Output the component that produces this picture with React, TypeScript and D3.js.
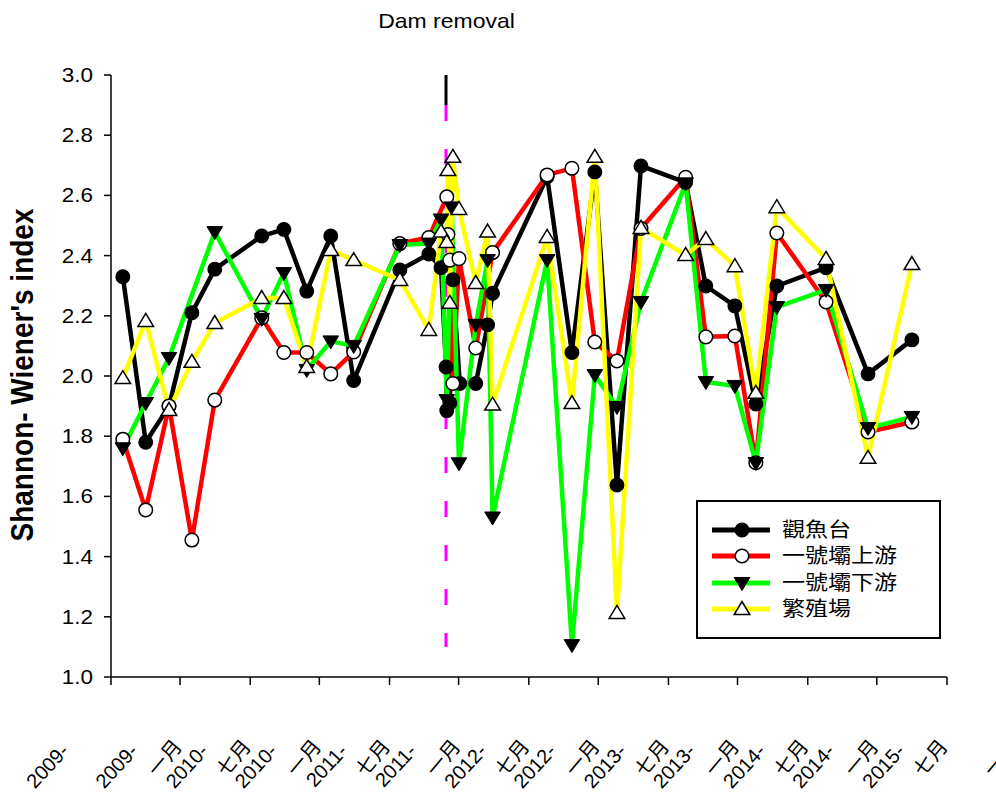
import React from "react";
import * as d3 from "d3";

const TITLE = "Dam removal";
const Y_TITLE = "Shannon- Wiener's index";
const SERIES_NAMES = ["觀魚台", "一號壩上游", "一號壩下游", "繁殖場"];
const SERIES_COLORS = ["#000000", "#ff0000", "#00ff00", "#ffff00"];
const SERIES_MARKERS = ["filledCircle", "openCircle", "downTriangle", "upTriangle"];

const BLACK_DATES = ["2009-02-01","2009-04-02","2009-06-02","2009-08-01","2009-09-30","2010-01-31","2010-03-30","2010-05-29","2010-07-31","2010-09-29","2011-01-28","2011-04-14","2011-05-16","2011-05-29","2011-05-31","2011-06-08","2011-06-16","2011-07-04","2011-08-15","2011-09-15","2011-09-28","2012-02-18","2012-04-23","2012-06-22","2012-08-19","2012-10-21","2013-02-15","2013-04-09","2013-06-24","2013-08-18","2013-10-12","2014-02-18","2014-06-08","2014-10-01"];
const BLACK_VALUES = [2.33,1.78,1.9,2.21,2.355,2.465,2.487,2.282,2.465,1.985,2.352,2.405,2.36,2.03,1.885,1.91,2.32,1.975,1.975,2.17,2.275,2.662,2.078,2.678,1.638,2.698,2.643,2.299,2.233,1.907,2.299,2.36,2.007,2.12];

const RED_DATES = ["2009-02-01","2009-04-02","2009-06-02","2009-08-01","2009-09-30","2010-01-31","2010-03-30","2010-05-29","2010-07-31","2010-09-29","2011-01-28","2011-04-14","2011-05-31","2011-06-03","2011-06-08","2011-06-16","2011-07-02","2011-08-15","2011-09-28","2012-02-18","2012-04-23","2012-06-22","2012-08-19","2012-10-21","2013-02-15","2013-04-09","2013-06-24","2013-08-18","2013-10-12","2014-02-18","2014-06-08","2014-10-01"];
const RED_VALUES = [1.79,1.555,1.9,1.455,1.92,2.193,2.078,2.078,2.007,2.08,2.44,2.46,2.595,2.47,2.385,1.975,2.39,2.093,2.41,2.668,2.69,2.113,2.05,2.49,2.66,2.13,2.133,1.712,2.475,2.246,1.814,1.847];

const GREEN_DATES = ["2009-02-01","2009-04-02","2009-06-02","2009-09-30","2010-01-31","2010-03-30","2010-05-29","2010-07-31","2010-09-29","2011-01-28","2011-04-14","2011-05-16","2011-05-31","2011-06-13","2011-07-02","2011-08-15","2011-09-15","2011-09-28","2012-02-18","2012-04-23","2012-06-22","2012-08-19","2012-10-21","2013-02-15","2013-04-09","2013-06-24","2013-08-18","2013-10-12","2014-02-18","2014-06-08","2014-10-01"];
const GREEN_VALUES = [1.76,1.91,2.06,2.478,2.19,2.342,2.02,2.115,2.1,2.435,2.44,2.52,1.92,2.56,1.71,2.17,2.385,1.53,2.385,1.106,2.003,1.897,2.246,2.64,1.98,1.967,1.711,2.229,2.286,1.827,1.864];

const YELLOW_DATES = ["2009-02-01","2009-04-02","2009-06-02","2009-08-01","2009-09-30","2010-01-31","2010-03-30","2010-05-29","2010-07-31","2010-09-29","2011-01-28","2011-04-14","2011-05-16","2011-05-31","2011-06-03","2011-06-08","2011-06-16","2011-07-02","2011-08-15","2011-09-15","2011-09-28","2012-02-18","2012-04-23","2012-06-22","2012-08-19","2012-10-21","2013-02-15","2013-04-09","2013-06-24","2013-08-18","2013-10-12","2014-02-18","2014-06-08","2014-10-01"];
const YELLOW_VALUES = [1.993,2.183,1.887,2.047,2.176,2.259,2.259,2.03,2.419,2.385,2.319,2.153,2.48,2.445,2.684,2.243,2.728,2.555,2.309,2.48,1.905,2.462,1.91,2.728,1.213,2.492,2.402,2.455,2.365,1.944,2.561,2.389,1.728,2.372];

const Y_TICKS = [1.0, 1.2, 1.4, 1.6, 1.8, 2.0, 2.2, 2.4, 2.6, 2.8, 3.0];
const X_TICK_YEARS = ["2009-","2009-","2010-","2010-","2011-","2011-","2012-","2012-","2013-","2013-","2014-","2014-","2015-"];
const X_TICK_MONTHS = ["一月","七月","一月","七月","一月","七月","一月","七月","一月","七月","一月","七月","一月"];
const X_DOMAIN = ["2009-01-01", "2015-01-01"];
const Y_DOMAIN = [1.0, 3.0];
const DAM_DATE = "2011-05-29";
const DAM_SOLID = [3.0, 2.9];
const DAM_DASHED = [2.9, 1.1];

const LATIN = "'Liberation Sans', Arial, Helvetica, sans-serif";
const CJK = "'Noto Sans CJK TC', 'Noto Sans CJK SC', sans-serif";
const SX = 1.15;

const parse = d3.timeParse("%Y-%m-%d");

function Marker({ kind, cx, cy }: { kind: string; cx: number; cy: number }) {
  if (kind === "filledCircle")
    return <circle cx={cx} cy={cy} r={6.8} fill="#000" stroke="#000" strokeWidth={1.3} />;
  if (kind === "openCircle")
    return <circle cx={cx} cy={cy} r={6.8} fill="#fff" stroke="#000" strokeWidth={1.5} />;
  if (kind === "downTriangle")
    return <path transform={`translate(${cx},${cy})`} d="M0,7.5L7.8,-5.5L-7.8,-5.5Z" fill="#000" stroke="#000" strokeWidth={1} />;
  return <path transform={`translate(${cx},${cy})`} d="M0,-7.5L7.8,5.5L-7.8,5.5Z" fill="#fff" stroke="#000" strokeWidth={1.5} strokeLinejoin="miter" />;
}

export default function App() {
  const x = d3.scaleTime().domain(X_DOMAIN.map((s) => parse(s) as Date)).range([111, 947]);
  const y = d3.scaleLinear().domain(Y_DOMAIN).range([677, 75]);

  const series = [
    { dates: BLACK_DATES, values: BLACK_VALUES },
    { dates: RED_DATES, values: RED_VALUES },
    { dates: GREEN_DATES, values: GREEN_VALUES },
    { dates: YELLOW_DATES, values: YELLOW_VALUES },
  ].map((s, i) => ({
    name: SERIES_NAMES[i],
    color: SERIES_COLORS[i],
    marker: SERIES_MARKERS[i],
    points: s.dates.map((d, j) => [parse(d) as Date, s.values[j]] as [Date, number]),
  }));

  const line = d3
    .line<[Date, number]>()
    .x((d) => x(d[0]))
    .y((d) => y(d[1]));

  const xTicks = x.ticks(d3.timeMonth.every(6) as any);
  const damX = x(parse(DAM_DATE) as Date);

  const legendX = 697, legendY = 501, legendW = 243, legendH = 137;
  const rowY = [530, 556, 583, 609];

  return (
    <svg width={996} height={794} style={{ position: "absolute", left: 0, top: 0, background: "#fff" }}>
      <rect x={0} y={0} width={996} height={794} fill="#fff" />
      {/* title */}
      <text transform={`translate(446.5,28) scale(${SX},1)`} textAnchor="middle" fontFamily={LATIN} fontSize={20} fill="#000">
        {TITLE}
      </text>

      {/* y axis */}
      <line x1={111} x2={111} y1={y(Y_DOMAIN[1])} y2={y(Y_DOMAIN[0])} stroke="#000" strokeWidth={1.5} />
      {Y_TICKS.map((t) => (
        <g key={t}>
          <line x1={104} x2={111} y1={y(t)} y2={y(t)} stroke="#000" strokeWidth={1.5} />
          <text transform={`translate(93,${y(t) + 7}) scale(${SX},1)`} textAnchor="end" fontFamily={LATIN} fontSize={19.5} fill="#000">
            {t.toFixed(1)}
          </text>
        </g>
      ))}
      <text transform={`translate(33,375) scale(${SX},1) rotate(-90)`} textAnchor="middle" fontFamily={LATIN} fontWeight="bold" fontSize={28} fill="#000">
        {Y_TITLE}
      </text>

      {/* x axis */}
      <line x1={111} x2={947} y1={677} y2={677} stroke="#000" strokeWidth={1.5} />
      {xTicks.map((t, i) => {
        const tx = x(t);
        return (
          <g key={i}>
            <line x1={tx} x2={tx} y1={677} y2={685} stroke="#000" strokeWidth={1.5} />
            <text transform={`translate(${tx - 41},752) rotate(-47)`} textAnchor="end" fontFamily={LATIN} fontSize={20} fill="#000">
              {X_TICK_YEARS[i]}
            </text>
            <text transform={`translate(${tx + 72},747) rotate(-50)`} textAnchor="end" fontFamily={CJK} fontSize={20} fill="#000">
              {X_TICK_MONTHS[i]}
            </text>
          </g>
        );
      })}

      {/* dam removal line */}
      <line x1={damX} x2={damX} y1={y(DAM_SOLID[0])} y2={y(DAM_SOLID[1])} stroke="#000" strokeWidth={3} />
      <line x1={damX} x2={damX} y1={y(DAM_DASHED[0])} y2={y(DAM_DASHED[1])} stroke="#ff00ff" strokeWidth={3} strokeDasharray="16 28" />

      {/* lines */}
      {series.map((s) => (
        <path key={s.name} d={line(s.points) || ""} fill="none" stroke={s.color} strokeWidth={4.5} strokeLinejoin="round" />
      ))}
      {/* markers */}
      {series.map((s) => (
        <g key={s.name + "m"}>
          {s.points.map((p, j) => (
            <Marker key={j} kind={s.marker} cx={x(p[0])} cy={y(p[1])} />
          ))}
        </g>
      ))}

      {/* legend */}
      <rect x={legendX} y={legendY} width={legendW} height={legendH} fill="#fff" stroke="#000" strokeWidth={2} />
      {series.map((s, i) => (
        <g key={s.name + "l"}>
          <line x1={712} x2={770} y1={rowY[i]} y2={rowY[i]} stroke={s.color} strokeWidth={5} />
          <Marker kind={s.marker} cx={742} cy={rowY[i]} />
          <text transform={`translate(782,${rowY[i] + 7}) scale(${SX},1)`} fontFamily={CJK} fontSize={20} fill="#000">
            {s.name}
          </text>
        </g>
      ))}
    </svg>
  );
}
